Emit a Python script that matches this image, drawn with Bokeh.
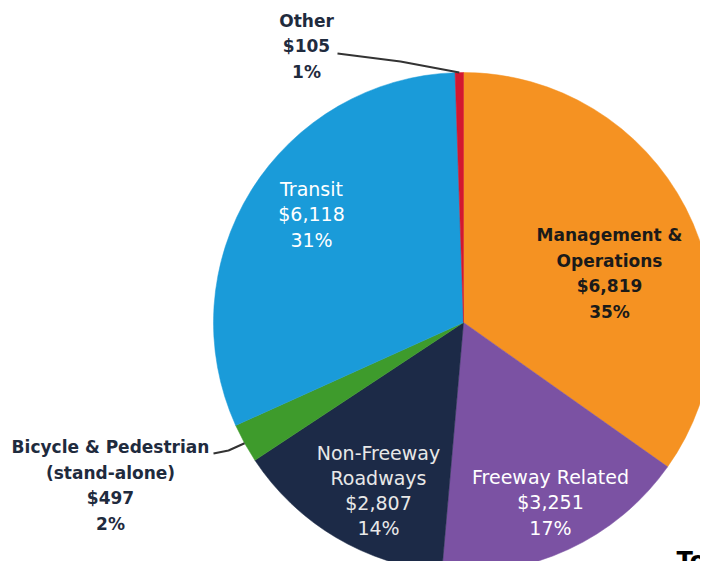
import math
from bokeh.plotting import figure
from bokeh.models import Range1d, ColumnDataSource
from bokeh.embed import file_html
from bokeh.resources import INLINE
from bokeh.core.properties import value

# ---- data ----
categories = ["Management &\nOperations", "Freeway Related", "Non-Freeway\nRoadways",
              "Bicycle & Pedestrian\n(stand-alone)", "Transit", "Other"]
amounts = [6819, 3251, 2807, 497, 6118, 105]
amount_labels = ["$6,819", "$3,251", "$2,807", "$497", "$6,118", "$105"]
pct_labels = ["35%", "17%", "14%", "2%", "31%", "1%"]
colors = ["#F59222", "#7B52A3", "#1C2A47", "#3E9B2C", "#1A9BD9", "#D3182F"]
text_colors = ["#1a1a1a", "#ffffff", "#e8e8e8", "#1F2B3E", "#ffffff", "#1F2B3E"]
bold_labels = [True, False, False, True, False, True]

# ---- layout (page pixel coordinates; y down -> negated) ----
CX, CY, R = 463, 322, 250
label_pos = [(609, 273), (550, 502), (378, 490), (110, 485), (311, 214), (306, 46)]

W, H = 700, 561
p = figure(width=W, height=H, output_backend="svg", toolbar_location=None,
           x_range=Range1d(0, W), y_range=Range1d(-H, 0),
           min_border=0)
p.axis.visible = False
p.grid.visible = False
p.outline_line_color = None
p.background_fill_color = "white"
p.border_fill_color = "white"

total = sum(amounts)
starts, ends, mids = [], [], []
cum = 0.0
for a in amounts:
    s = math.pi / 2 - 2 * math.pi * cum / total
    cum += a
    e = math.pi / 2 - 2 * math.pi * cum / total
    starts.append(s)
    ends.append(e)
    mids.append((s + e) / 2)

src = ColumnDataSource(dict(start=starts, end=ends, color=colors))
p.wedge(x=CX, y=-CY, radius=R, start_angle="start", end_angle="end",
        direction="clock", fill_color="color", line_color="color", line_width=0.5,
        source=src)

# labels
texts = [f"{c}\n{a}\n{pc}" for c, a, pc in zip(categories, amount_labels, pct_labels)]
for bold in (True, False):
    idx = [i for i in range(len(texts)) if bold_labels[i] == bold]
    lsrc = ColumnDataSource(dict(x=[label_pos[i][0] for i in idx],
                                 y=[-label_pos[i][1] for i in idx],
                                 t=[texts[i] for i in idx],
                                 c=[text_colors[i] for i in idx]))
    p.text(x="x", y="y", text="t", text_color="c", source=lsrc,
           text_font=value("DejaVu Sans"),
           text_font_size="17px" if bold else "19px",
           text_font_style="bold" if bold else "normal",
           text_align="center", text_baseline="middle",
           text_line_height=1.28 if bold else 1.15)

# leader lines
def edge_point(i, rr=R):
    return CX + rr * math.cos(mids[i]), CY - rr * math.sin(mids[i])

ox, oy = edge_point(5)
p.line(x=[337, 400, ox], y=[-53, -61, -oy], line_color="#333333", line_width=2)
bx, by = edge_point(3)
p.line(x=[213, 228, bx], y=[-453, -450, -by], line_color="#333333", line_width=2)

# partially visible title at bottom right
p.text(x=[676], y=[-546], text=["Total"], text_color="black",
       text_font=value("DejaVu Sans"), text_font_size="24px", text_font_style="bold",
       text_align="left", text_baseline="top")

open("out.html", "w").write(file_html(p, INLINE))
